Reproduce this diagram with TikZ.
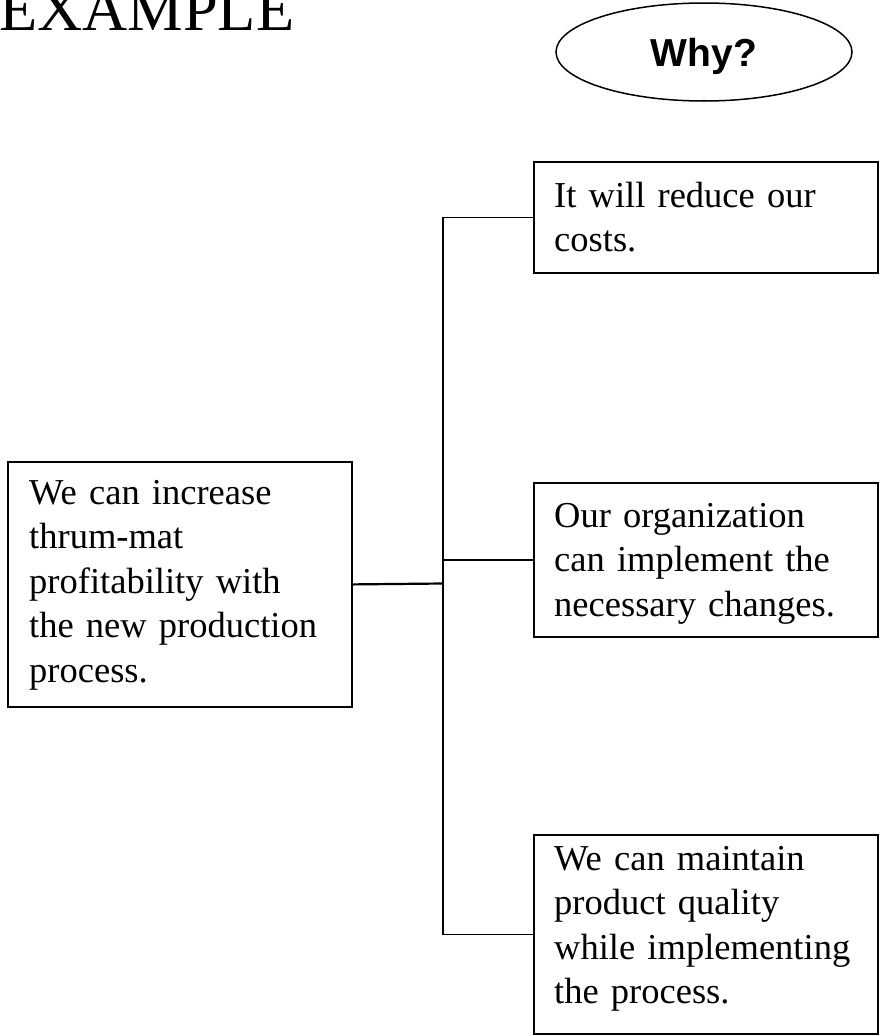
\documentclass[tikz,border=0pt]{standalone}
\usepackage{fontspec}
\setmainfont{Liberation Serif}
\newfontfamily\headsans{Liberation Sans}
\usetikzlibrary{shapes.geometric}
\begin{document}
\begin{tikzpicture}[x=1pt,y=-1pt,
  reasonbox/.style={draw, line width=1.8pt, minimum width=#1, inner sep=0pt, anchor=north west},
  boxtext/.style={anchor=base west, inner sep=0pt, text width=320pt, align=left,
    font=\fontsize{36.5}{44.5}\selectfont},
  link/.style={line width=1.5pt},
  trunklink/.style={line width=2.2pt}]
  \useasboundingbox (0,0) rectangle (879,1036);

  % heading and question bubble
  \node[anchor=base west, inner sep=0pt, font=\fontsize{62.5}{70}\selectfont] (title) at (-1,30) {EXAMPLE};
  \node[ellipse, draw, line width=1.5pt, minimum width=296pt, minimum height=98pt, inner sep=0pt,
        text depth=0pt, font=\headsans\bfseries\fontsize{39}{44}\selectfont] (why) at (704,52) {Why?};

  % claim and supporting reasons
  \node[reasonbox=344pt, minimum height=245pt] (claim) at (7,461) {};
  \node[boxtext] (claimtxt) at (29,504) {We can increase\\thrum-mat\\profitability with\\the new production\\process.};

  \node[reasonbox=344pt, minimum height=111pt] (r1) at (533,161) {};
  \node[boxtext] (r1txt) at (554,207) {It will reduce our\\costs.};

  \node[reasonbox=344pt, minimum height=154pt] (r2) at (533,482) {};
  \node[boxtext] (r2txt) at (554,527) {Our organization\\can implement the\\necessary changes.};

  \node[reasonbox=344pt, minimum height=199pt] (r3) at (533,834) {};
  \node[boxtext] (r3txt) at (554,870) {We can maintain\\product quality\\while implementing\\the process.};

  % tree connectors
  \coordinate (junction) at (443,583.5);
  \draw[link] (r1.west) -| (junction) |- (r3.west);
  \draw[link] (r2.west) -- (r2.west -| junction);
  \draw[trunklink] (claim.east) -- (junction);
\end{tikzpicture}
\end{document}
